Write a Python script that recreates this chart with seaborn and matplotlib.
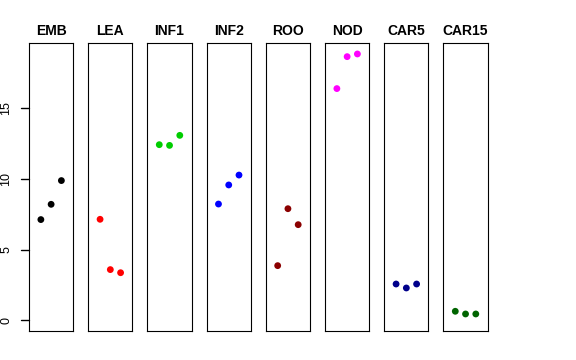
import matplotlib
matplotlib.use("Agg")
import matplotlib.pyplot as plt
from matplotlib.lines import Line2D
import seaborn as sns
import pandas as pd

# panel names, colours and the three values per panel
tissues = ["EMB", "LEA", "INF1", "INF2", "ROO", "NOD", "CAR5", "CAR15"]
colors = ["#000000", "#FF0000", "#00CD00", "#0000FF",
          "#8B0000", "#FF00FF", "#00008B", "#006400"]
values = [
    [7.13, 8.21, 9.89],
    [7.15, 3.59, 3.37],
    [12.43, 12.38, 13.09],
    [8.23, 9.58, 10.28],
    [3.87, 7.90, 6.77],
    [16.40, 18.66, 18.85],
    [2.57, 2.29, 2.57],
    [0.64, 0.45, 0.45],
]
replicate = [1, 2, 3]
yticks = [0, 5, 10, 15]

sns.set_style("ticks", {"axes.edgecolor": "black", "text.color": "black",
                        "ytick.color": "black", "axes.labelcolor": "black"})
plt.rcParams['font.family'] = ['Liberation Sans', 'DejaVu Sans']

fig, axes = plt.subplots(1, len(tissues), figsize=(5.76, 3.6), dpi=100)
fig.subplots_adjust(left=0.0503, right=0.8467, bottom=0.0806, top=0.8797, wspace=0.336)

ymax = max(max(v) for v in values)
for i, (ax, name, col, vals) in enumerate(zip(axes, tissues, colors, values)):
    df = pd.DataFrame({"rep": replicate, "val": vals})
    sns.scatterplot(data=df, x="rep", y="val", color=col, s=24, edgecolor="none", ax=ax)
    ax.set_xlim(-0.16, 4.16)
    ax.set_ylim(-0.04 * ymax, 1.04 * ymax)
    ax.set_xticks([])
    ax.set_xlabel("")
    ax.set_ylabel("")
    ax.set_title(name, fontsize=10, fontweight="bold", pad=6, color="black")
    for sp in ax.spines.values():
        sp.set_color("black")
        sp.set_linewidth(0.8)
        sp.set_visible(True)
    if i == 0:
        ax.set_yticks(yticks)
        ax.set_yticklabels([str(t) for t in yticks], rotation=90, va="center", fontsize=9)
        ax.tick_params(axis="y", length=0, pad=12)
        # R-style tick marks outside the left edge
        for t in yticks:
            ax.add_line(Line2D([-0.18, 0.0], [t, t], transform=ax.get_yaxis_transform(),
                               color="black", linewidth=1.0, clip_on=False, zorder=5))
    else:
        ax.set_yticks([])

plt.savefig("out.png", dpi=100)
